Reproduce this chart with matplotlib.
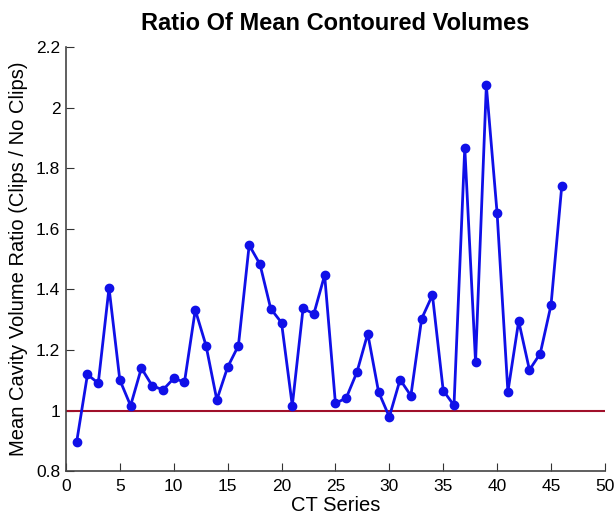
import matplotlib
matplotlib.use("Agg")
import matplotlib.pyplot as plt
import numpy as np

plt.rcParams["font.family"] = ["Liberation Sans", "DejaVu Sans"]

# CT 시리즈별 비율 값
series = np.arange(1, 47)
ratio = [
    0.897, 1.119, 1.090, 1.405, 1.101, 1.016, 1.140, 1.082, 1.068, 1.106,
    1.094, 1.332, 1.214, 1.035, 1.143, 1.214, 1.546, 1.483, 1.336, 1.290,
    1.016, 1.337, 1.319, 1.447, 1.024, 1.041, 1.127, 1.254, 1.062, 0.979,
    1.102, 1.049, 1.303, 1.381, 1.066, 1.017, 1.868, 1.160, 2.073, 1.651,
    1.062, 1.295, 1.134, 1.188, 1.348, 1.742,
]
ref_level = 1.0
x_ticks = [0, 5, 10, 15, 20, 25, 30, 35, 40, 45, 50]
y_ticks = [0.8, 1.0, 1.2, 1.4, 1.6, 1.8, 2.0, 2.2]
y_labels = ["0.8", "1", "1.2", "1.4", "1.6", "1.8", "2", "2.2"]

fig = plt.figure(figsize=(6.16, 5.16), dpi=100)
ax = fig.add_axes([0.107, 0.087, 0.875, 0.822])

ax.plot([0, 50], [ref_level, ref_level], color="#a0102a", lw=1.5)
ax.plot(series, ratio, color="#1010e8", lw=2, marker="o", ms=6,
        markerfacecolor="#1010e8", markeredgecolor="#1010e8")

ax.set_xlim(0, 50)
ax.set_ylim(0.8, 2.2)
ax.set_xticks(x_ticks)
ax.set_yticks(y_ticks)
ax.set_yticklabels(y_labels)
ax.tick_params(direction="in", length=6, labelsize=12.5, colors="#333333",
               labelcolor="black")
ax.tick_params(axis="x", pad=6)
ax.tick_params(axis="y", pad=4)
ax.spines["top"].set_visible(False)
ax.spines["right"].set_visible(False)
for s in ["left", "bottom"]:
    ax.spines[s].set_color("#444444")
    ax.spines[s].set_linewidth(1.2)

ax.set_xlabel("CT Series", fontsize=14.5, labelpad=1)
ax.set_ylabel("Mean Cavity Volume Ratio (Clips / No Clips)", fontsize=14.5,
              labelpad=6)
ax.set_title("Ratio Of Mean Contoured Volumes", fontsize=17, fontweight="bold",
             pad=12)

fig.savefig("out.png", dpi=100)
